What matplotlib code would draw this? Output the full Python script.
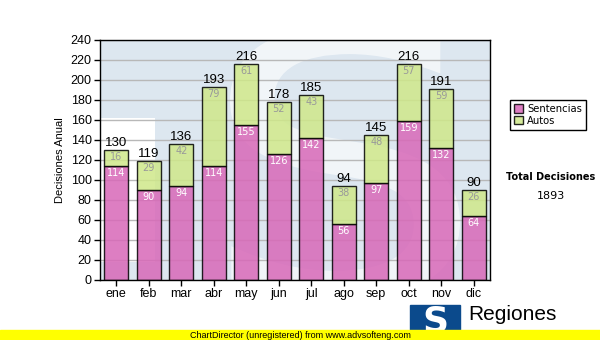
import numpy as np
import matplotlib.pyplot as plt
from matplotlib.patches import Rectangle, PathPatch
from matplotlib.textpath import TextPath
from matplotlib.font_manager import FontProperties
from matplotlib.transforms import Affine2D, IdentityTransform

# datos
meses = ['ene', 'feb', 'mar', 'abr', 'may', 'jun', 'jul', 'ago', 'sep', 'oct', 'nov', 'dic']
sentencias = [114, 90, 94, 114, 155, 126, 142, 56, 97, 159, 132, 64]
autos = [16, 29, 42, 79, 61, 52, 43, 38, 48, 57, 59, 26]
yticks = list(range(0, 241, 20))

sent = np.array(sentencias)
aut = np.array(autos)
tot = sent + aut
x = np.arange(len(meses))

fig = plt.figure(figsize=(6, 3.4), dpi=100)
ax = fig.add_axes([100/600, 60/340, 390/600, 240/340])

# fondo tipo marca de agua (S del logo, en pixeles)
ax.set_facecolor('#dde7f0')
ax.add_patch(Rectangle((-0.5, 18), 1.7, 144, color='white', zorder=0, lw=0))
tp = TextPath((0, 0), 'S', size=100, prop=FontProperties(family='DejaVu Sans'))
bb = tp.get_extents()
x0, x1, ytop, ybot = 230, 460, 25, 300
tr = Affine2D().translate(-bb.x0, -bb.y0).scale((x1 - x0) / bb.width, (ytop - ybot) / -bb.height) \
    .translate(x0, 340 - ybot)
sp = PathPatch(tr.transform_path(tp), transform=IdentityTransform(), facecolor='white',
               edgecolor='none', alpha=0.6, zorder=0)
ax.add_patch(sp)
sp.set_clip_path(ax.patch)

ax.grid(axis='y', color='#b8b8b8', lw=1, zorder=1)
ax.set_axisbelow(True)

w = 0.74
ax.bar(x, sent, w, color='#d868b8', alpha=0.85, edgecolor='black', lw=1, zorder=2, label='Sentencias')
ax.bar(x, aut, w, bottom=sent, color='#cfe88a', alpha=0.85, edgecolor='black', lw=1, zorder=2, label='Autos')

for i in range(len(meses)):
    ax.text(x[i], sent[i] - 2, str(sent[i]), ha='center', va='top', fontsize=7, color='white', zorder=3)
    ax.text(x[i], tot[i] - 2, str(aut[i]), ha='center', va='top', fontsize=7, color='#999999', zorder=3)
    ax.text(x[i], tot[i] + 1, str(tot[i]), ha='center', va='bottom', fontsize=9.5, color='black',
            family='Liberation Sans', zorder=3)

ax.set_xlim(-0.5, 11.5)
ax.set_ylim(0, 240)
ax.set_yticks(yticks)
ax.set_xticks(x)
ax.set_xticklabels(meses)
for lab in ax.get_xticklabels() + ax.get_yticklabels():
    lab.set_family('Liberation Sans')
    lab.set_fontsize(9)
ax.tick_params(length=4, width=1, pad=2)
for s in ax.spines.values():
    s.set_linewidth(1)
ax.set_ylabel('Decisiones Anual', fontsize=8, family='Liberation Sans', labelpad=4)

leg = fig.legend(loc='upper left', bbox_to_anchor=(510/600, 1 - 100/340), fontsize=7.2,
                 handlelength=0.9, handleheight=0.9, handletextpad=0.4, labelspacing=0.15,
                 borderpad=0.4, borderaxespad=0, fancybox=False, framealpha=1, edgecolor='black')
leg.get_frame().set_linewidth(1)

fig.text(551/600, 1 - 177/340, 'Total Decisiones', fontsize=7, fontweight='bold', ha='center', va='center')
fig.text(551/600, 1 - 196/340, str(tot.sum()), fontsize=8, ha='center', va='center')

# logo y pie
fig.patches.append(Rectangle((410/600, 0), 50/600, 35/340, transform=fig.transFigure,
                             color='#0b4a8c', zorder=1))
fig.text(435/600, 18/340, 'S', fontsize=26, fontweight='bold', color='white', ha='center', va='center')
fig.text(468/600, 25/340, 'Regiones', fontsize=15, family='Liberation Sans', ha='left', va='center')
fig.patches.append(Rectangle((0, 0), 1, 10/340, transform=fig.transFigure,
                             color='#ffff00', zorder=5))
fig.text(300/600, 5/340, 'ChartDirector (unregistered) from www.advsofteng.com', fontsize=6.5,
         family='Liberation Sans', ha='center', va='center', zorder=6)

fig.savefig('out.png', dpi=100)
